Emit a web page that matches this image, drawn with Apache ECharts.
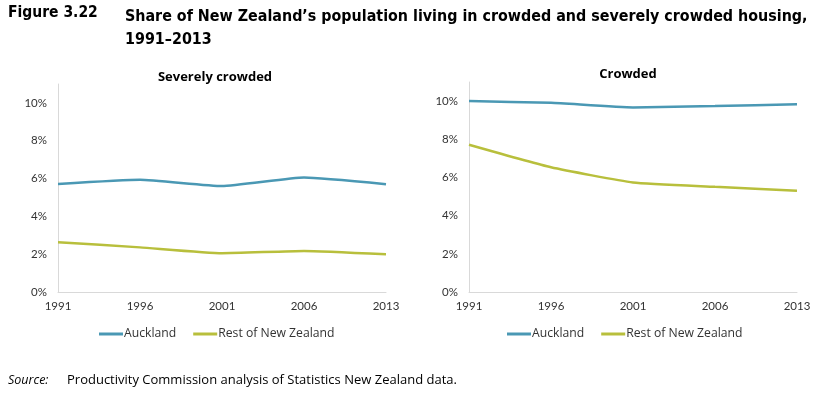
<!DOCTYPE html>
<html>
<head>
<meta charset="utf-8">
<script src="https://cdn.jsdelivr.net/npm/echarts@6/dist/echarts.min.js"></script>
<style>
  html, body { margin: 0; padding: 0; background: #fff; }
  #chart { width: 830px; height: 397px; }
</style>
</head>
<body>
<div id="chart"></div>
<script>
// census years
const years = ['1991', '1996', '2001', '2006', '2013']

// severely crowded (%)
const severeAuckland = [5.71, 5.93, 5.6, 6.05, 5.7]
const severeRest = [2.63, 2.36, 2.05, 2.17, 1.99]

// crowded (%)
const crowdedAuckland = [10.0, 9.91, 9.67, 9.74, 9.84]
const crowdedRest = [7.71, 6.53, 5.74, 5.51, 5.3]

const seriesNames = ['Auckland', 'Rest of New Zealand']
const panelTitles = ['Severely crowded', 'Crowded']

const blue = '#4a98b4'
const olive = '#b8bf3c'
const labelFont = 'Lato, "Noto Sans", sans-serif'
const wideFont = '"Open Sans", "Noto Sans", sans-serif'

function makeX(gridIndex) {
  return {
    type: 'category',
    gridIndex: gridIndex,
    data: years,
    boundaryGap: false,
    axisLine: { lineStyle: { color: '#d9d9d9', width: 1 } },
    axisTick: { show: false },
    axisLabel: { color: '#333', fontSize: 11.5, fontFamily: labelFont, margin: 8 },
  }
}
function makeY(gridIndex) {
  return {
    type: 'value',
    gridIndex: gridIndex,
    min: 0,
    max: 11,
    interval: 2,
    axisLine: { show: true, lineStyle: { color: '#d9d9d9', width: 1 } },
    axisTick: { show: false },
    splitLine: { show: false },
    axisLabel: {
      color: '#333',
      fontSize: 11.5,
      fontFamily: labelFont,
      margin: 11,
      formatter: function (v) {
        return v % 2 === 0 ? v + '%' : ''
      },
    },
  }
}
function makeLine(name, data, color, idx) {
  return {
    name: name,
    type: 'line',
    xAxisIndex: idx,
    yAxisIndex: idx,
    data: data,
    smooth: 0.15,
    symbol: 'none',
    lineStyle: { color: color, width: 2.5 },
    itemStyle: { color: color },
  }
}
function makeLegend(left) {
  return {
    data: seriesNames,
    left: left,
    top: 328,
    padding: 0,
    itemWidth: 24,
    itemHeight: 3,
    itemGap: 17,
    icon: 'rect',
    textStyle: { color: '#333', fontSize: 12.2, fontFamily: wideFont, padding: [0, 0, 0, -4] },
  }
}

const chart = echarts.init(document.getElementById('chart'), null, { renderer: 'canvas' })

const option = {
  animation: false,
  title: [
    {
      text: panelTitles[0],
      left: 210,
      top: 66,
      textAlign: 'center',
      textStyle: { fontSize: 13, fontWeight: 'bold', color: '#000', fontFamily: wideFont },
    },
    {
      text: panelTitles[1],
      left: 623,
      top: 63,
      textAlign: 'center',
      textStyle: { fontSize: 13, fontWeight: 'bold', color: '#000', fontFamily: wideFont },
    },
  ],
  graphic: [
    {
      type: 'text',
      left: 8,
      top: 5,
      style: {
        text: 'Figure 3.22',
        font: 'bold 15.5px "Liberation Sans Narrow", "DejaVu Sans Condensed", sans-serif',
        fill: '#000',
      },
    },
    {
      type: 'text',
      left: 125,
      top: 5,
      style: {
        text: 'Share of New Zealand\u2019s population living in crowded and severely crowded housing,\n1991\u20132013',
        font: 'bold 15.9px "Liberation Sans Narrow", "DejaVu Sans Condensed", sans-serif',
        lineHeight: 23,
        fill: '#000',
      },
    },
    {
      type: 'text',
      left: 8,
      top: 374,
      style: { text: 'Source:', font: 'italic 12.5px "Open Sans", sans-serif', fill: '#000' },
    },
    {
      type: 'text',
      left: 67,
      top: 374,
      style: {
        text: 'Productivity Commission analysis of Statistics New Zealand data.',
        font: '13px "Open Sans", sans-serif',
        fill: '#000',
      },
    },
  ],
  legend: [makeLegend(99), makeLegend(507)],
  grid: [
    { left: 58, width: 328, top: 84, height: 208 },
    { left: 469, width: 328, top: 82, height: 210 },
  ],
  xAxis: [makeX(0), makeX(1)],
  yAxis: [makeY(0), makeY(1)],
  series: [
    makeLine(seriesNames[0], severeAuckland, blue, 0),
    makeLine(seriesNames[1], severeRest, olive, 0),
    makeLine(seriesNames[0], crowdedAuckland, blue, 1),
    makeLine(seriesNames[1], crowdedRest, olive, 1),
  ],
}

chart.setOption(option)
</script>
</body>
</html>
